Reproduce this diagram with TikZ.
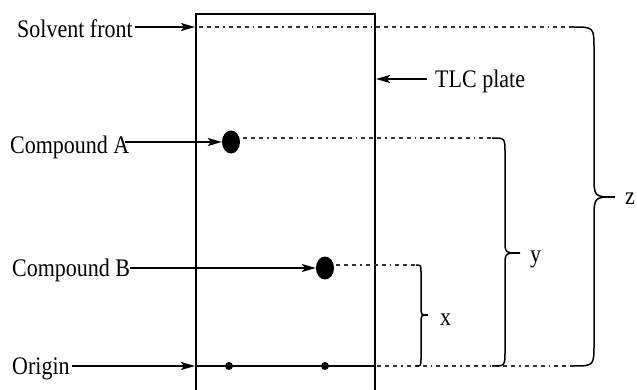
\documentclass[tikz,border=0pt]{standalone}
\usepackage{fontspec}
\setmainfont{Liberation Serif}
\usetikzlibrary{arrows.meta,shapes.geometric}
\newcommand{\tall}[1]{\scalebox{1}[1.15]{#1}}
\begin{document}
\begin{tikzpicture}[x=1pt,y=-1pt,
  lbl/.style={font=\fontsize{22}{24}\selectfont, inner sep=0pt, anchor=base west},
  ptr/.style={line width=1.5pt, -{Stealth[length=14pt,width=8pt,inset=3pt]}},
  dotline/.style={line width=1.3pt, black!80, dash pattern=on 4pt off 4pt on 4pt off 4pt on 4pt off 4pt on 1.5pt off 4pt},
  brc/.style={line width=1.5pt},
  plate/.style={line width=1.8pt},
  spot/.style={ellipse, fill=black, inner sep=0pt, minimum width=18pt, minimum height=23pt},
  dot/.style={circle, fill=black, inner sep=0pt, minimum size=8pt}]
\useasboundingbox (0,0) rectangle (637,390);
% plate
\coordinate (pTL) at (196,14);
\coordinate (pTR) at (375,14);
\coordinate (pBL) at (196,394);
\coordinate (pBR) at (375,394);
\draw[plate] (pBL) -- (pTL) -- (pTR) -- (pBR);
% labels
\node[lbl] (sf) at (17,38) {\tall{Solvent front}};
\node[lbl] (ca) at (10,154) {\tall{Compound A}};
\node[lbl] (cb) at (12,276) {\tall{Compound B}};
\node[lbl] (or) at (12,374) {\tall{Origin}};
\node[lbl] (tlc) at (435,88) {\tall{TLC plate}};
\node[lbl] (lx) at (440,325) {\tall{x}};
\node[lbl] (ly) at (530,262) {\tall{y}};
\node[lbl] (lz) at (625,205) {\tall{z}};
% spots
\node[spot] (A) at (231,142) {};
\node[spot] (B) at (325,268) {};
\node[dot] (o1) at (229,366) {};
\node[dot] (o2) at (325,366) {};
% origin line
\coordinate (oL) at (196,366);
\coordinate (oR) at (375,366);
\draw[line width=1.5pt] (oL) -- (oR);
% arrows
\coordinate (sfS) at (135,27);
\coordinate (sfE) at (195,27);
\draw[ptr] (sfS) -- (sfE);
\coordinate (caS) at (125,142);
\draw[ptr] (caS) -- (A.west);
\coordinate (cbS) at (130,268);
\draw[ptr] (cbS) -- (B.west);
\coordinate (orS) at (72,366);
\coordinate (orE) at (195,366);
\draw[ptr] (orS) -- (orE);
\coordinate (tlS) at (427,79);
\coordinate (tlE) at (376,79);
\draw[ptr] (tlS) -- (tlE);
% dotted lines
\coordinate (zT) at (572,27);
\coordinate (zB) at (572,366);
\coordinate (yT) at (492,138);
\coordinate (yB) at (492,366);
\coordinate (xT) at (416,265);
\coordinate (xB) at (416,366);
\coordinate (sfD) at (199,27);
\coordinate (aD) at (243,138);
\coordinate (bD) at (336,265);
\coordinate (oD) at (377,366);
\draw[dotline] (sfD) -- (zT);
\draw[dotline] (aD) -- (yT);
\draw[dotline] (bD) -- (xT);
\draw[dotline] (oD) -- (zB);
% braces
\draw[brc] (zT) .. controls (594,27) .. (594,49) -- (594,175) .. controls (594,197) .. (615,197)
  .. controls (594,197) .. (594,219) -- (594,344) .. controls (594,366) .. (zB);
\draw[brc] (yT) .. controls (505,138) .. (505,153) -- (505,240) .. controls (505,253) .. (520,253)
  .. controls (505,253) .. (505,266) -- (505,351) .. controls (505,366) .. (yB);
\draw[brc] (xT) .. controls (421,265) .. (421,273) -- (421,307) .. controls (421,315) .. (428,315)
  .. controls (421,315) .. (421,323) -- (421,358) .. controls (421,366) .. (xB);
\end{tikzpicture}
\end{document}
